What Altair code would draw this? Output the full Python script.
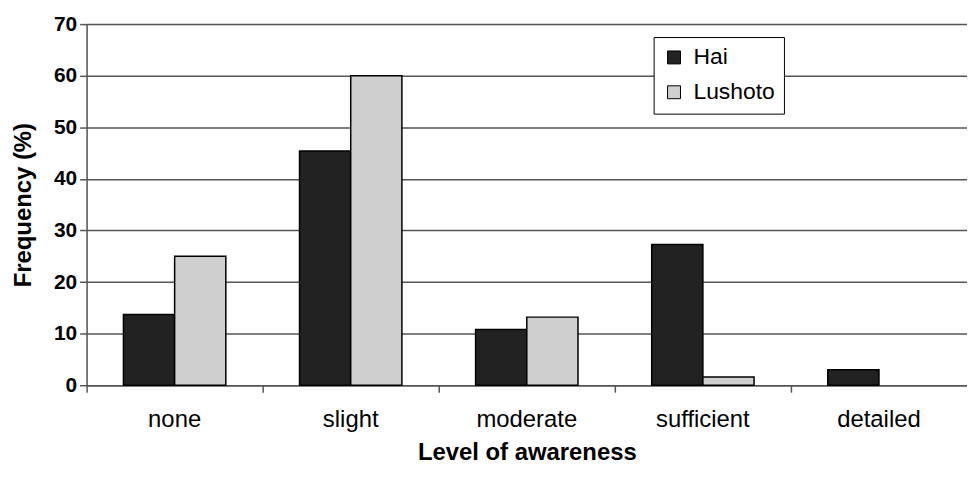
import altair as alt
import pandas as pd

categories = ["none", "slight", "moderate", "sufficient", "detailed"]
series = ["Hai", "Lushoto"]
hai = [13.7, 45.4, 10.8, 27.3, 3.0]
lushoto = [25.0, 60.0, 13.2, 1.6, 0.0]

rows = []
for c, h, l in zip(categories, hai, lushoto):
    rows.append({"level": c, "site": "Hai", "freq": h})
    rows.append({"level": c, "site": "Lushoto", "freq": l})
df = pd.DataFrame(rows)

FONT = "Liberation Sans"

bars = alt.Chart(df).mark_bar(stroke="black", strokeWidth=1.5).encode(
    x=alt.X("level:N", sort=categories,
            scale=alt.Scale(paddingInner=0, paddingOuter=0),
            axis=alt.Axis(title="Level of awareness", labelAngle=0,
                          bandPosition=0, tickSize=7, tickColor="#555555",
                          domainColor="#555555", domainWidth=1.5, tickWidth=1.5,
                          labelFont=FONT, labelFontSize=24, labelColor="black",
                          labelPadding=15,
                          titleFont=FONT, titleFontSize=24, titleFontWeight="bold",
                          titleColor="black", titlePadding=10, grid=False)),
    xOffset=alt.XOffset("site:N", sort=series,
                        scale=alt.Scale(paddingOuter=0.72, paddingInner=0)),
    y=alt.Y("freq:Q",
            scale=alt.Scale(domain=[0, 70], nice=False),
            axis=alt.Axis(title="Frequency (%)", values=[0, 10, 20, 30, 40, 50, 60, 70],
                          tickSize=7, tickColor="#555555", tickWidth=1.5,
                          domainColor="#555555", domainWidth=1.5,
                          gridColor="#555555", gridWidth=1.5, grid=True,
                          labelFont=FONT, labelFontSize=21, labelFontWeight="bold",
                          labelColor="black", labelPadding=3,
                          titleFont=FONT, titleFontSize=24, titleFontWeight="bold",
                          titleColor="black", titlePadding=18)),
    fill=alt.Fill("site:N", sort=series,
                  scale=alt.Scale(domain=series, range=["#222222", "#cfcfcf"]),
                  legend=alt.Legend(title=None, orient="none", legendX=570, legendY=13,
                                    symbolType="square", symbolSize=169,
                                    symbolStrokeColor="black", symbolStrokeWidth=1,
                                    labelFont=FONT, labelFontSize=23,
                                    labelColor="black",
                                    rowPadding=11, padding=9,
                                    fillColor="white", strokeColor="black",
                                    labelOffset=8)),
    strokeOpacity=alt.condition("datum.freq > 0", alt.value(1), alt.value(0)),
)

chart = bars.properties(
    width=885, height=363,
    autosize=alt.AutoSizeParams(type="none"),
    padding={"left": 79, "top": 15, "right": 0, "bottom": 78},
).configure_view(stroke=None).configure(background="white")

chart.save("out.html", embed_options={"renderer": "svg", "actions": False})
